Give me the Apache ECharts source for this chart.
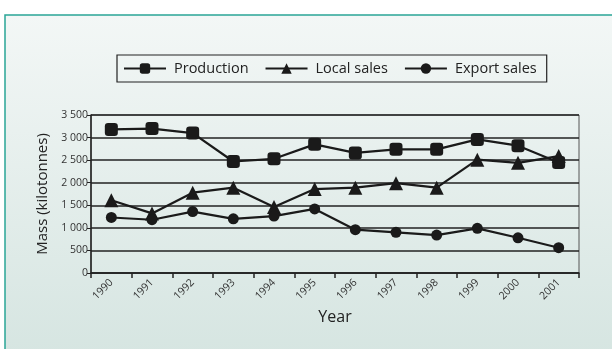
<!DOCTYPE html>
<html>
<head>
<meta charset="utf-8">
<script src="https://cdn.jsdelivr.net/npm/echarts@6/dist/echarts.min.js"></script>
<style>html,body{margin:0;padding:0;background:#fff}#c{width:612px;height:349px}</style>
</head>
<body>
<div id="c"></div>
<script>
const years = ['1990','1991','1992','1993','1994','1995','1996','1997','1998','1999','2000','2001'];
const production = [3180, 3200, 3100, 2470, 2530, 2850, 2660, 2740, 2740, 2960, 2820, 2450];
const localSales = [1610, 1320, 1780, 1890, 1460, 1860, 1890, 1990, 1890, 2510, 2440, 2590];
const exportSales = [1230, 1180, 1360, 1200, 1260, 1420, 960, 900, 840, 990, 780, 560];
const yTicks = [0, 500, 1000, 1500, 2000, 2500, 3000, 3500];

const FONT = '"Open Sans", sans-serif';
const chart = echarts.init(document.getElementById('c'), null, {renderer: 'canvas'});
function mk(name, data, symbol, size) {
  return {
    name, type: 'line', data, symbol, symbolSize: size,
    itemStyle: {color: '#1a1a1a'},
    lineStyle: {color: '#1a1a1a', width: 2.2},
    emphasis: {disabled: true}, animation: false
  };
}
chart.setOption({
  animation: false,
  textStyle: {fontFamily: FONT},
  graphic: [{
    type: 'rect', z: -10, silent: true,
    shape: {x: 5, y: 15, width: 640, height: 360},
    style: {
      fill: new echarts.graphic.LinearGradient(0, 0, 0, 1, [
        {offset: 0, color: '#f3f7f6'}, {offset: 1, color: '#d4e4e0'}
      ]),
      stroke: '#2aa597', lineWidth: 1.5
    }
  }],
  legend: {
    top: 55, left: 117,
    padding: [6, 10, 6, 6],
    borderColor: '#222', borderWidth: 1.2,
    itemWidth: 42, itemHeight: 13, itemGap: 16,
    textStyle: {fontSize: 14.5, color: '#222', fontFamily: FONT, padding: [0, 0, 0, 3]},
    data: ['Production', 'Local sales', 'Export sales']
  },
  grid: {left: 91, right: 33, top: 115, bottom: 76, show: true, borderColor: '#555', borderWidth: 1, backgroundColor: 'transparent'},
  xAxis: {
    type: 'category', data: years, boundaryGap: true,
    name: 'Year', nameLocation: 'middle', nameGap: 36,
    nameTextStyle: {fontSize: 16, color: '#222'},
    axisLine: {lineStyle: {color: '#222', width: 1.5}},
    axisTick: {show: true, alignWithLabel: false, length: 5, lineStyle: {color: '#222', width: 1.5}},
    axisLabel: {rotate: 45, fontSize: 10.5, color: '#333', margin: 8}
  },
  yAxis: {
    type: 'value', min: yTicks[0], max: yTicks[yTicks.length - 1], interval: 500,
    name: 'Mass (kilotonnes)', nameLocation: 'middle', nameGap: 40,
    nameTextStyle: {fontSize: 15, color: '#222'},
    axisLine: {show: true, lineStyle: {color: '#222', width: 1.5}},
    axisTick: {show: true, length: 4, lineStyle: {color: '#222'}},
    axisLabel: {fontSize: 10.5, color: '#333', margin: 3,
      formatter: v => String(v).replace(/\B(?=(\d{3})+(?!\d))/g, ' ')},
    splitLine: {lineStyle: {color: '#222', width: 1.5}}
  },
  series: [
    mk('Production', production, 'roundRect', 13),
    mk('Local sales', localSales, 'triangle', 14),
    mk('Export sales', exportSales, 'circle', 11)
  ]
});
</script>
</body>
</html>
